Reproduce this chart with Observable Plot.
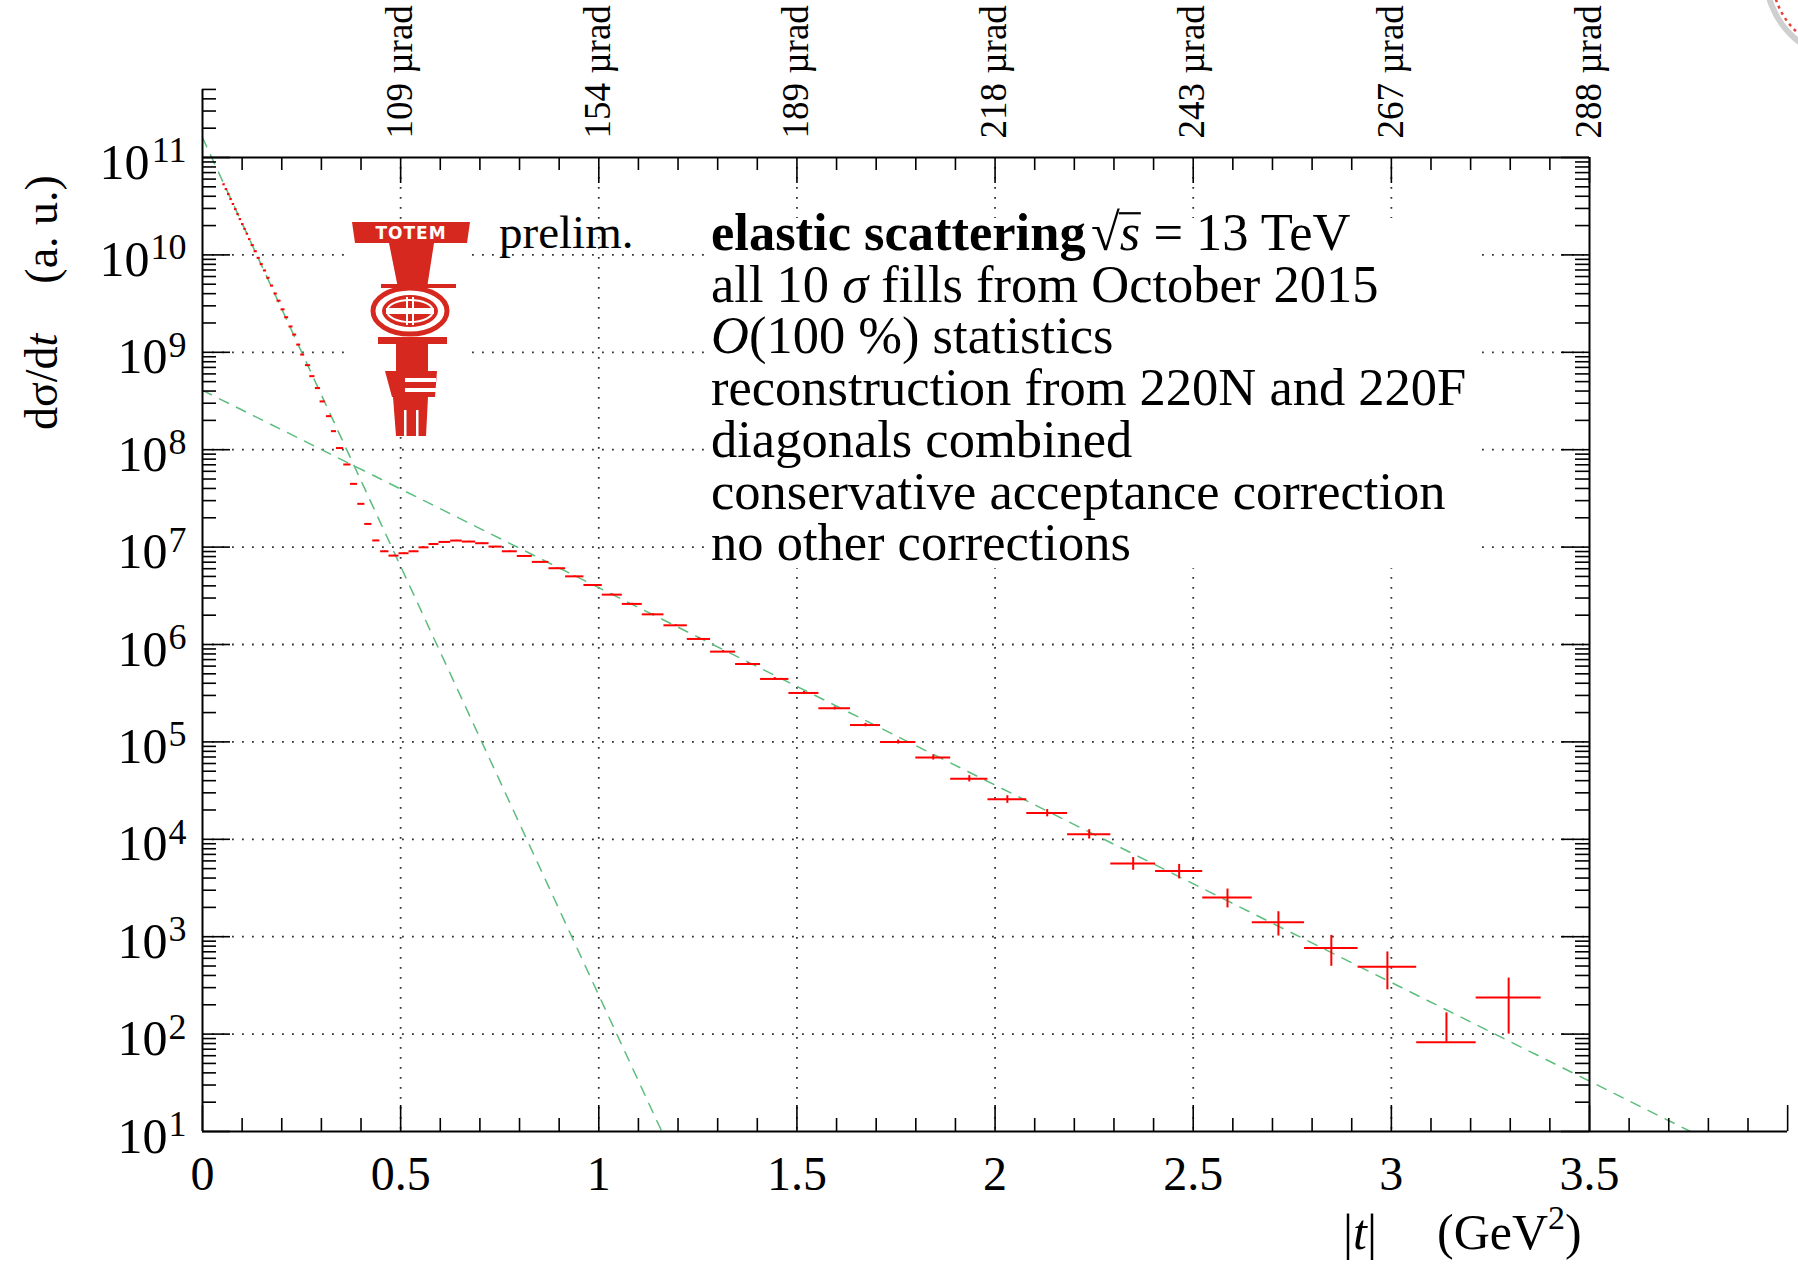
<!DOCTYPE html>
<html>
<head>
<meta charset="utf-8">
<script src="https://cdn.jsdelivr.net/npm/d3@7"></script>
<script src="https://cdn.jsdelivr.net/npm/@observablehq/plot@0.6"></script>
<style>
  html, body { margin: 0; padding: 0; background: #fff; overflow: hidden; }
  #chart svg { display: block; }
</style>
</head>
<body>
<div id="chart"></div>
<script>
// ---------------- data ----------------
// bin centres |t| (GeV^2)
const tCenter = [
  0.0543, 0.0602, 0.0661, 0.0720, 0.0779, 0.0838, 0.0896, 0.0955, 0.1014, 0.1073, 0.1132, 0.1191,
  0.1266, 0.1342, 0.1418, 0.1493, 0.1577, 0.1662, 0.1754, 0.1847,
  0.1931, 0.2032, 0.2124, 0.2233, 0.2326, 0.2427, 0.2528,
  0.2662, 0.2772, 0.2914, 0.3032, 0.3192, 0.3318,
  0.3470, 0.3655, 0.3823, 0.4008, 0.4184, 0.4386,
  0.4600, 0.4832, 0.5085, 0.5337, 0.5589, 0.5841, 0.6115, 0.6409, 0.6724, 0.7061,
  0.7397, 0.7754, 0.8133, 0.8532, 0.8953, 0.9394, 0.9857, 1.0341, 1.0845, 1.1371,
  1.1939, 1.2527, 1.3137, 1.3767, 1.4440, 1.5176, 1.5953,
  1.6731, 1.7555, 1.8440, 1.9350, 2.0310, 2.1315, 2.2375, 2.3485, 2.4645, 2.5865,
  2.7150, 2.8485, 2.9900, 3.1390, 3.2960
];
// half bin widths (GeV^2)
const tHalfWidth = [
  0.003, 0.003, 0.003, 0.003, 0.003, 0.003, 0.003, 0.003, 0.003, 0.003, 0.003, 0.003,
  0.004, 0.004, 0.004, 0.004, 0.004, 0.004, 0.004, 0.004,
  0.005, 0.005, 0.005, 0.005, 0.005, 0.005, 0.005,
  0.0065, 0.0065, 0.0065, 0.0065, 0.0065, 0.0065,
  0.009, 0.009, 0.009, 0.009, 0.009, 0.009,
  0.0105, 0.0126, 0.0127, 0.0126, 0.0126, 0.0126, 0.0148, 0.0147, 0.0168, 0.0169,
  0.0168, 0.0189, 0.0190, 0.0210, 0.0211, 0.0231, 0.0232, 0.0253, 0.0252, 0.0274,
  0.0295, 0.0294, 0.0316, 0.0315, 0.0358, 0.0379, 0.0399,
  0.0379, 0.0445, 0.0440, 0.0470, 0.0490, 0.0515, 0.0545, 0.0565, 0.0595, 0.0625,
  0.0660, 0.0675, 0.0740, 0.0750, 0.0820
];
// dsigma/dt (a.u.)
const dSigmaDt = [
  5.30e10, 4.74e10, 4.21e10, 3.74e10, 3.33e10, 2.95e10, 2.62e10, 2.33e10, 2.07e10, 1.85e10, 1.65e10, 1.45e10,
  1.26e10, 1.09e10, 9.33e9, 8.04e9, 6.92e9, 5.82e9, 4.84e9, 4.01e9,
  3.39e9, 2.76e9, 2.29e9, 1.84e9, 1.52e9, 1.20e9, 9.48e8,
  7.38e8, 5.69e8, 4.29e8, 3.13e8, 2.21e8, 1.55e8,
  1.04e8, 7.05e7, 4.46e7, 2.78e7, 1.73e7, 1.17e7,
  9.06e6, 8.18e6, 8.65e6, 9.06e6, 9.95e6, 1.076e7, 1.130e7, 1.167e7, 1.140e7, 1.096e7,
  1.012e7, 9.06e6, 8.11e6, 7.05e6, 6.07e6, 5.01e6, 4.08e6, 3.25e6, 2.61e6, 2.04e6,
  1.574e6, 1.140e6, 8.45e5, 6.31e5, 4.43e5, 3.18e5, 2.21e5,
  1.49e5, 9.98e4, 6.93e4, 4.19e4, 2.57e4, 1.86e4, 1.13e4, 5.65e3, 4.72e3, 2.53e3,
  1.41e3, 764, 491, 82.6, 238
];
// relative statistical uncertainty
const relError = [
  0.004, 0.004, 0.004, 0.004, 0.004, 0.004, 0.004, 0.004, 0.004, 0.004, 0.004, 0.004,
  0.004, 0.004, 0.004, 0.004, 0.004, 0.004, 0.004, 0.004,
  0.004, 0.004, 0.004, 0.004, 0.004, 0.004, 0.004,
  0.004, 0.004, 0.004, 0.004, 0.004, 0.004,
  0.004, 0.004, 0.004, 0.004, 0.004, 0.004,
  0.006, 0.006, 0.006, 0.006, 0.006, 0.006, 0.006, 0.006, 0.006, 0.006,
  0.006, 0.01, 0.01, 0.01, 0.01, 0.01, 0.01, 0.015, 0.015, 0.015,
  0.015, 0.025, 0.025, 0.025, 0.035, 0.035, 0.035,
  0.04, 0.047, 0.06, 0.074, 0.09, 0.086, 0.11, 0.15, 0.17, 0.22,
  0.28, 0.35, 0.42, 1.0, 0.58
];
// exponential fits (dashed green): end points of each straight line in log scale
const fitSteepT = [0, 1.159];
const fitSteepY = [1.6e11, 10];
const fitShallowT = [0, 3.755];
const fitShallowY = [4.07e8, 10];

// axes
const xTickValues = [0, 0.5, 1, 1.5, 2, 2.5, 3, 3.5];
const xTickLabels = ["0", "0.5", "1", "1.5", "2", "2.5", "3", "3.5"];
const topTickValues = [0.5, 1, 1.5, 2, 2.5, 3, 3.5];
const topTickLabels = ["109 µrad", "154 µrad", "189 µrad", "218 µrad", "243 µrad", "267 µrad", "288 µrad"];
const yDecades = [1e1, 1e2, 1e3, 1e4, 1e5, 1e6, 1e7, 1e8, 1e9, 1e10, 1e11];
const yExponents = ["1", "2", "3", "4", "5", "6", "7", "8", "9", "10", "11"];
const xGrid = [0.5, 1, 1.5, 2, 2.5, 3];
const yGrid = [1e2, 1e3, 1e4, 1e5, 1e6, 1e7, 1e8, 1e9, 1e10];

// text
const annotationLines = [
  [["all 10 ", ""], ["\u03C3", "italic"], [" fills from October 2015", ""]],
  [["O", "italic"], ["(100 %) statistics", ""]],
  [["reconstruction from 220N and 220F", ""]],
  [["diagonals combined", ""]],
  [["conservative acceptance correction", ""]],
  [["no other corrections", ""]]
];

// ---------------- build ----------------
const W = 1798, H = 1265;
const mL = 202, mR = 209, mT = 157, mB = 134;
const FW = W - mL - mR, FH = H - mT - mB;
const RED = "#ff0000", GREEN = "#5dbd7e";
const SERIF = "Liberation Serif, Times New Roman, serif";

const rows = tCenter.map((t, i) => ({
  t,
  lo: t - tHalfWidth[i],
  hi: t + tHalfWidth[i],
  y: dSigmaDt[i],
  ylo: relError[i] >= 1 ? dSigmaDt[i] : dSigmaDt[i] * (1 - relError[i]),
  yhi: dSigmaDt[i] * (1 + relError[i])
}));
const fitSteep = fitSteepT.map((t, i) => ({t, y: fitSteepY[i]}));
const fitShallow = fitShallowT.map((t, i) => ({t, y: fitShallowY[i]}));

const xMinorAll = d3.range(1, 40).map(i => i / 10).filter(v => Math.abs(v * 2 - Math.round(v * 2)) > 1e-6);
const bottomMajor = xTickValues.concat([4.0]);
const topMinor = xMinorAll.filter(v => v < 3.5);
const yMinor = [];
for (let e = 1; e <= 10; e++) for (let k = 2; k <= 9; k++) yMinor.push(k * Math.pow(10, e));
const yMinorLeftExtra = [2e11, 3e11, 4e11, 5e11];

const expIdx1 = yDecades.map((d, i) => i).filter(i => yExponents[i].length === 1);
const expIdx2 = yDecades.map((d, i) => i).filter(i => yExponents[i].length === 2);

const AX = {stroke: "#000", strokeWidth: 2};
const TK = {stroke: "#000", strokeWidth: 1.6};
const GRID = {stroke: "#333", strokeWidth: 1.8, strokeDasharray: "1.8,8.2"};

const plot = Plot.plot({
  width: W, height: H,
  marginLeft: mL, marginRight: mR, marginTop: mT, marginBottom: mB,
  x: {domain: [0, 3.5], axis: null},
  y: {type: "log", domain: [10, 1e11], axis: null},
  style: {background: "#fff", overflow: "visible"},
  marks: [
    // grid
    Plot.ruleX(xGrid, {x: d => d, ...GRID}),
    Plot.ruleY(yGrid, {y: d => d, ...GRID}),
    // fits
    Plot.line(fitSteep, {x: "t", y: "y", stroke: GREEN, strokeWidth: 1.5, strokeDasharray: "10,9"}),
    Plot.line(fitShallow, {x: "t", y: "y", stroke: GREEN, strokeWidth: 1.5, strokeDasharray: "10,9"}),
    // data: horizontal bin bars and vertical error bars
    Plot.ruleY(rows, {y: "y", x1: "lo", x2: "hi", stroke: RED, strokeWidth: 2}),
    Plot.ruleX(rows, {x: "t", y1: "ylo", y2: "yhi", stroke: RED, strokeWidth: 2}),
    // frame and axis lines
    Plot.ruleX([0], {x: d => d, y1: () => 10, y2: () => 5e11, ...AX}),
    Plot.ruleX([3.5], {x: d => d, y1: () => 10, y2: () => 1e11, ...AX}),
    Plot.ruleY([10], {y: d => d, x1: () => 0, x2: () => 4.0, ...AX}),
    Plot.ruleY([1e11], {y: d => d, x1: () => 0, x2: () => 3.5, ...AX}),
    // bottom ticks
    Plot.ruleX(bottomMajor, {x: d => d, insetTop: FH - 26, ...TK}),
    Plot.ruleX(xMinorAll, {x: d => d, insetTop: FH - 13, ...TK}),
    // top ticks
    Plot.ruleX(topTickValues, {x: d => d, insetBottom: FH - 26, ...TK}),
    Plot.ruleX(topMinor, {x: d => d, insetBottom: FH - 13, ...TK}),
    // left ticks
    Plot.ruleY(yDecades, {y: d => d, insetRight: FW - 28, ...TK}),
    Plot.ruleY(yMinor.concat(yMinorLeftExtra), {y: d => d, insetRight: FW - 14, ...TK}),
    // right ticks
    Plot.ruleY(yDecades, {y: d => d, insetLeft: FW - 28, ...TK}),
    Plot.ruleY(yMinor, {y: d => d, insetLeft: FW - 14, ...TK}),
    // bottom tick labels
    Plot.text(xTickValues, {x: d => d, text: (d, i) => xTickLabels[i], frameAnchor: "bottom", dy: 58,
      fontSize: 48, fontFamily: SERIF, fill: "#000"}),
    // top (angle) labels
    Plot.text(topTickValues, {x: d => d, text: (d, i) => topTickLabels[i], frameAnchor: "top", dy: -19, dx: -15,
      rotate: -90, textAnchor: "start", fontSize: 37, fontFamily: SERIF, fill: "#000"}),
    // y labels: "10" + exponent
    Plot.text(expIdx1, {y: i => yDecades[i], text: () => "10", frameAnchor: "left", dx: -35, dy: 5,
      textAnchor: "end", fontSize: 50, fontFamily: SERIF, fill: "#000"}),
    Plot.text(expIdx2, {y: i => yDecades[i], text: () => "10", frameAnchor: "left", dx: -53, dy: 5,
      textAnchor: "end", fontSize: 50, fontFamily: SERIF, fill: "#000"}),
    Plot.text(yDecades, {y: d => d, text: (d, i) => yExponents[i], frameAnchor: "left", dx: -16, dy: -7,
      textAnchor: "end", fontSize: 36, fontFamily: SERIF, fill: "#000"})
  ]
});

document.getElementById("chart").appendChild(plot);
const svg = d3.select(plot);

// ---------- TOTEM logo (decoration) ----------
const LR = "#d6281e";
const logo = svg.append("g");
logo.append("rect").attr("x", 352).attr("y", 221).attr("width", 118).attr("height", 215).attr("fill", "#fff");
logo.append("path").attr("d", "M352,222 L470,222 L467,243 L355,243 Z").attr("fill", LR);
logo.append("text").attr("x", 411).attr("y", 239).attr("text-anchor", "middle")
  .attr("font-family", "DejaVu Sans, sans-serif").attr("font-weight", "bold").attr("font-size", 17)
  .attr("letter-spacing", 1).attr("fill", "#fff").text("TOTEM");
logo.append("path").attr("d", "M389,243 L434,243 L427,288 L398,288 Z").attr("fill", LR);
logo.append("rect").attr("x", 381).attr("y", 284).attr("width", 75).attr("height", 4).attr("fill", LR);
logo.append("ellipse").attr("cx", 410).attr("cy", 311).attr("rx", 37).attr("ry", 23)
  .attr("fill", "#fff").attr("stroke", LR).attr("stroke-width", 5);
logo.append("ellipse").attr("cx", 410).attr("cy", 311).attr("rx", 28).attr("ry", 16).attr("fill", LR);
logo.append("ellipse").attr("cx", 410).attr("cy", 311).attr("rx", 23).attr("ry", 11)
  .attr("fill", "none").attr("stroke", "#fff").attr("stroke-width", 2);
logo.append("rect").attr("x", 386).attr("y", 308).attr("width", 48).attr("height", 6).attr("fill", "#fff");
logo.append("rect").attr("x", 406).attr("y", 297).attr("width", 2).attr("height", 28).attr("fill", "#fff");
logo.append("rect").attr("x", 412).attr("y", 297).attr("width", 2).attr("height", 28).attr("fill", "#fff");
logo.append("rect").attr("x", 378).attr("y", 337).attr("width", 69).attr("height", 7).attr("fill", LR);
logo.append("rect").attr("x", 396).attr("y", 344).attr("width", 32).attr("height", 27).attr("fill", LR);
logo.append("path").attr("d", "M385,371 L437,371 L435,397 L392,397 Z").attr("fill", LR);
logo.append("rect").attr("x", 405).attr("y", 378).attr("width", 31).attr("height", 4).attr("fill", "#fff");
logo.append("rect").attr("x", 405).attr("y", 388).attr("width", 31).attr("height", 4).attr("fill", "#fff");
logo.append("path").attr("d", "M393,397 L428,397 L426,436 L396,436 Z").attr("fill", LR);
logo.append("rect").attr("x", 404).attr("y", 410).attr("width", 2.5).attr("height", 26).attr("fill", "#fff");
logo.append("rect").attr("x", 416).attr("y", 410).attr("width", 2.5).attr("height", 26).attr("fill", "#fff");

// "prelim."
svg.append("text").attr("x", 499).attr("y", 248).attr("text-anchor", "start")
  .attr("font-family", SERIF).attr("font-size", 47).attr("fill", "#000").text("prelim.");

// ---------- annotation box ----------
svg.append("rect").attr("x", 707).attr("y", 218).attr("width", 771).attr("height", 350).attr("fill", "#fff");
const FS = 52.5;
// first line: bold part, then sqrt(s) = 13 TeV
svg.append("text").attr("x", 711).attr("y", 250).attr("text-anchor", "start")
  .attr("font-family", SERIF).attr("font-size", FS).attr("font-weight", "bold").attr("fill", "#000")
  .text("elastic scattering");
const rootX = 1091;
const l1 = svg.append("text").attr("x", rootX).attr("y", 250).attr("text-anchor", "start")
  .attr("font-family", SERIF).attr("font-size", FS).attr("fill", "#000");
l1.append("tspan").text("\u221A");
l1.append("tspan").attr("font-style", "italic").text("s");
l1.append("tspan").text(" = 13 TeV");
// vinculum over s (√ advance 0.549em, italic s advance 0.389em in Liberation Serif)
svg.append("path")
  .attr("d", `M${rootX + 0.53 * FS},${250 - 0.70 * FS} H${rootX + (0.549 + 0.40) * FS}`)
  .attr("stroke", "#000").attr("stroke-width", 2.2).attr("fill", "none");

annotationLines.forEach((segs, li) => {
  const tx = svg.append("text").attr("x", 711).attr("y", 250 + (li + 1) * 51.7).attr("text-anchor", "start")
    .attr("font-family", SERIF).attr("font-size", FS).attr("fill", "#000");
  segs.forEach(([s, style]) => {
    const ts = tx.append("tspan").text(s);
    if (style === "italic") ts.attr("font-style", "italic");
  });
});

// ---------- axis titles ----------
const yt = svg.append("text").attr("transform", "translate(57,430) rotate(-90)").attr("text-anchor", "start")
  .attr("font-family", SERIF).attr("font-size", 46).attr("fill", "#000");
yt.append("tspan").text("d\u03C3/d");
yt.append("tspan").attr("font-style", "italic").text("t");
yt.append("tspan").attr("dx", 50).text("(a. u.)");

const xt1 = svg.append("text").attr("x", 1343).attr("y", 1249).attr("text-anchor", "start")
  .attr("font-family", SERIF).attr("font-size", 50).attr("fill", "#000");
xt1.append("tspan").text("|");
xt1.append("tspan").attr("font-style", "italic").text("t");
xt1.append("tspan").text("|");
const xt2 = svg.append("text").attr("x", 1437).attr("y", 1249).attr("text-anchor", "start")
  .attr("font-family", SERIF).attr("font-size", 50).attr("fill", "#000");
xt2.append("tspan").text("(GeV");
xt2.append("tspan").attr("font-size", 34).attr("dy", -20).text("2");
xt2.append("tspan").attr("dy", 20).text(")");

// ---------- top-right corner fragment ----------
svg.append("circle").attr("cx", 1850).attr("cy", -25).attr("r", 84)
  .attr("fill", "none").attr("stroke", "#cfcfcf").attr("stroke-width", 6);
svg.append("circle").attr("cx", 1850).attr("cy", -25).attr("r", 78)
  .attr("fill", "none").attr("stroke", "#e8403a").attr("stroke-width", 2.5).attr("stroke-dasharray", "3,4");
</script>
</body>
</html>
